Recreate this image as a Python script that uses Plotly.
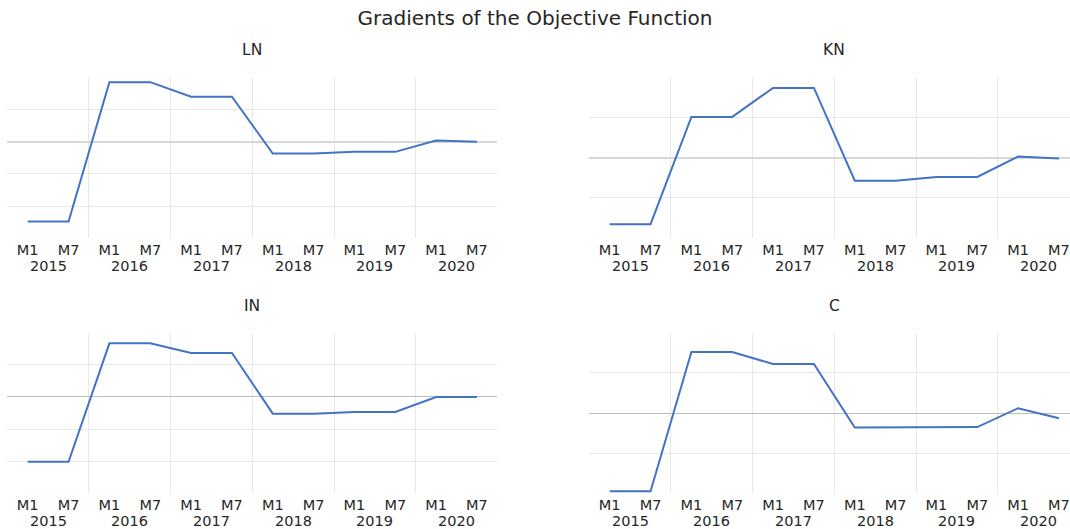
import plotly.graph_objects as go

years = ["2015", "2016", "2017", "2018", "2019", "2020"]
months = ["M1", "M7"]

LN = [-2.48, -2.48, 1.84, 1.84, 1.39, 1.39, -0.37, -0.37, -0.32, -0.32, 0.03, -0.01]
KN = [-1.65, -1.65, 1.01, 1.01, 1.73, 1.73, -0.57, -0.57, -0.48, -0.48, 0.03, -0.02]
IN = [-2.02, -2.02, 1.67, 1.67, 1.37, 1.37, -0.52, -0.52, -0.47, -0.47, 0.00, 0.00]
C = [-1.95, -1.95, 1.52, 1.52, 1.22, 1.22, -0.36, -0.36, -0.35, -0.35, 0.12, -0.13]

panel_names = ["LN", "KN", "IN", "C"]
panel_values = [LN, KN, IN, C]
y_ranges = [[-3, 2], [-2, 2], [-3, 2], [-2, 2]]
y_ticks = [[-2, -1, 0, 1], [-1, 0, 1], [-2, -1, 0, 1], [-1, 0, 1]]

title_text = "Gradients of the Objective Function"

# ---- derived positions ----
labels = [m for y in years for m in months]
xpos = list(range(len(labels)))
n_m = len(months)
n = len(labels)
year_centers = [i * n_m + (n_m - 1) / 2 for i in range(len(years))]
year_bounds = [i * n_m - 0.5 for i in range(1, len(years))]

W, H = 1070, 529
# plot boxes in pixels (the right-hand plots run past the page edge)
col_px = [(7.3, 497.4), (589.3, 1079.4)]
row_px = [(77.0, 238.3), (332.7, 493.3)]

FONT = "DejaVu Sans"
TXT = "#262626"
LINE = "#4472C4"
GRID = "#e8e8e8"
ZERO = ["#d6d6d6", "#bdbdbd"]
ZERO_W = [2, 1]

fig = go.Figure()
annotations = []
layout = dict(
    width=W, height=H,
    margin=dict(l=0, r=0, t=0, b=0),
    paper_bgcolor="white", plot_bgcolor="white",
    showlegend=False,
    font=dict(family=FONT, color=TXT, size=14),
    title=dict(text=title_text, x=0.5, xanchor="center", y=1 - 18 / H, yanchor="middle",
               font=dict(family=FONT, size=20, color=TXT)),
)

for k, (name, vals) in enumerate(zip(panel_names, panel_values)):
    r, c = divmod(k, 2)
    sfx = "" if k == 0 else str(k + 1)
    xa, ya = "x" + sfx, "y" + sfx
    x0, x1 = col_px[c]
    x1v = min(x1, W)
    xr = [-0.5, -0.5 + (x1v - x0) * n / (x1 - x0)]
    y0, y1 = row_px[r]
    fig.add_trace(go.Scatter(x=xpos, y=vals, mode="lines", xaxis=xa, yaxis=ya,
                             line=dict(color=LINE, width=2), name=name,
                             cliponaxis=False))
    layout["xaxis" + sfx] = dict(
        domain=[x0 / W, x1v / W], anchor=ya, range=xr,
        tickmode="array", tickvals=xpos, ticktext=labels, ticks="",
        ticklabelstandoff=1,
        showgrid=False, zeroline=False, showline=False,
        tickfont=dict(family=FONT, size=14.5, color=TXT),
        minor=dict(tickmode="array", tickvals=year_bounds, showgrid=True,
                   gridcolor=GRID, gridwidth=1, ticks=""),
    )
    layout["yaxis" + sfx] = dict(
        domain=[(H - y1) / H, (H - y0) / H], anchor=xa, range=y_ranges[k],
        tickmode="array", tickvals=y_ticks[k], showticklabels=False, ticks="",
        showgrid=True, gridcolor=GRID, gridwidth=1,
        zeroline=True, zerolinecolor=ZERO[r], zerolinewidth=ZERO_W[r], showline=False,
    )
    # subplot title, centred on the full plot box
    annotations.append(dict(
        text=name, xref="paper", yref="paper",
        x=(x0 + x1) / 2 / W, y=(H - y0) / H, yshift=27,
        xanchor="center", yanchor="middle", showarrow=False,
        font=dict(family=FONT, size=15.5, color=TXT)))
    # year labels (outer category row)
    for yc, yr in zip(year_centers, years):
        annotations.append(dict(
            text=yr, xref=xa, yref=ya + " domain", x=yc, y=0, yshift=-27.5,
            xanchor="center", yanchor="middle", showarrow=False,
            font=dict(family=FONT, size=14.5, color=TXT)))

layout["annotations"] = annotations
fig.update_layout(**layout)
fig.write_html("out.html", config={"displayModeBar": False},
               post_script="document.body.style.margin='0px';")
